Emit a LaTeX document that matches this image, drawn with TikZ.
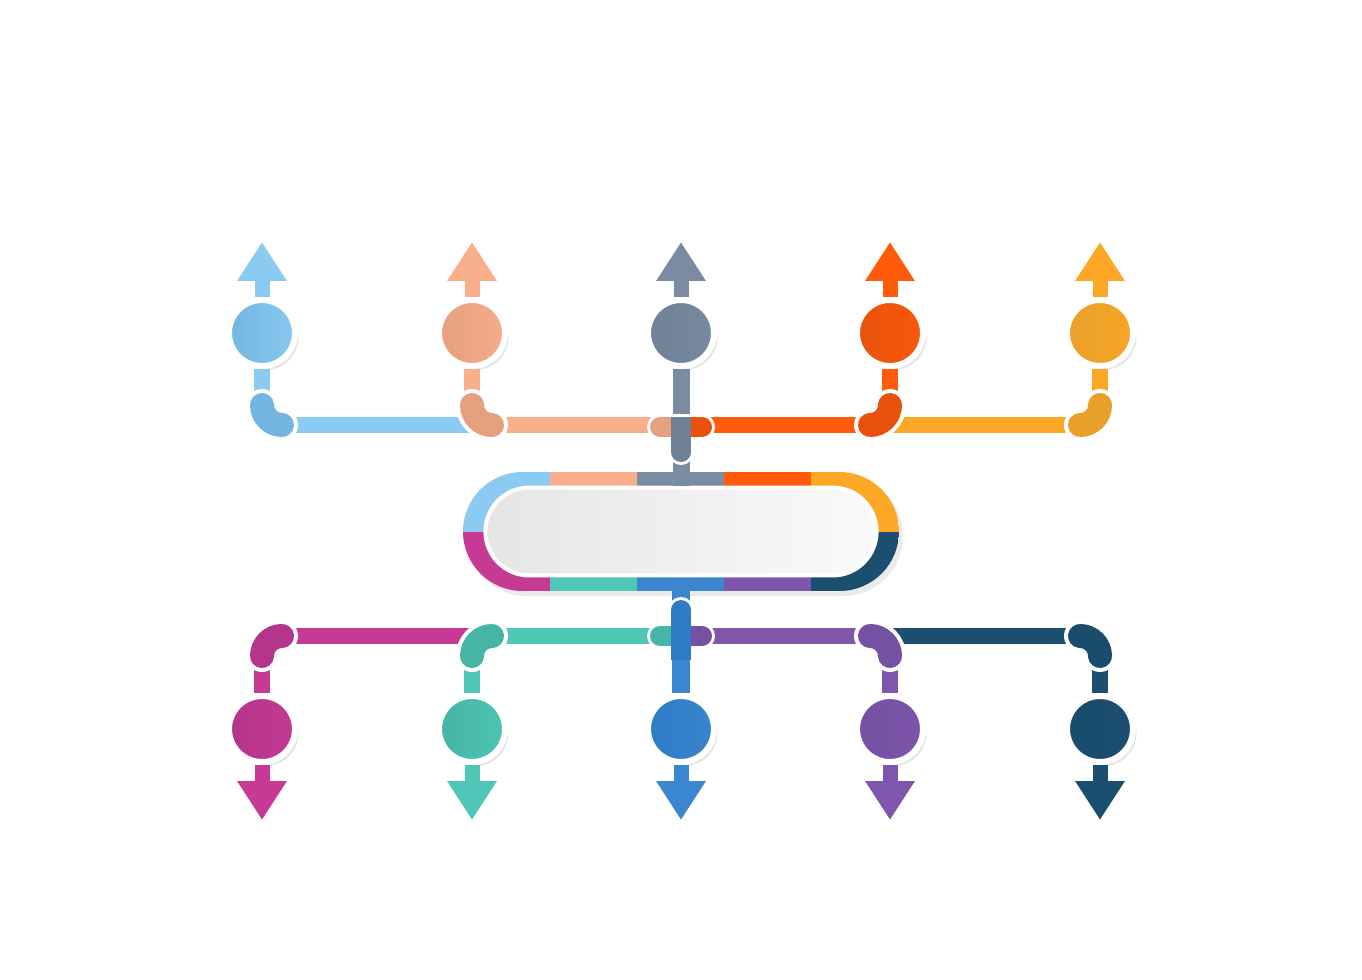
\documentclass[tikz,border=0pt]{standalone}
\usetikzlibrary{arrows.meta}
\usetikzlibrary{shadows}
\usetikzlibrary{shapes.misc}

\definecolor{cBlue}{HTML}{8BCBF1}
\definecolor{cSalmon}{HTML}{F9AF8B}
\definecolor{cGray}{HTML}{7A8CA1}
\definecolor{cOrange}{HTML}{FF5B0B}
\definecolor{cYellow}{HTML}{FCA826}
\definecolor{cMagenta}{HTML}{C63A96}
\definecolor{cTeal}{HTML}{50C7B6}
\definecolor{cBlueb}{HTML}{3A87CF}
\definecolor{cPurple}{HTML}{7E56AB}
\definecolor{cNavy}{HTML}{1B4F70}

\definecolor{kBlue}{HTML}{74B5E0}
\definecolor{kSalmon}{HTML}{E5A07F}
\definecolor{kGray}{HTML}{6E8197}
\definecolor{kOrange}{HTML}{E8520C}
\definecolor{kYellow}{HTML}{E9A02A}
\definecolor{kMagenta}{HTML}{B5358A}
\definecolor{kTeal}{HTML}{45B5A5}
\definecolor{kBlueb}{HTML}{2F7CC6}
\definecolor{kPurple}{HTML}{7451A3}
\definecolor{kNavy}{HTML}{1A4C6C}

\begin{document}
\begin{tikzpicture}[x=0.02cm, y=-0.02cm,
  dot/.style={circle, minimum size=1.32cm, draw=white, line width=0.12cm,
    drop shadow={shadow xshift=0.07cm, shadow yshift=-0.08cm, opacity=0.2}},
  hub/.style={rounded rectangle, minimum width=8.06cm, minimum height=1.76cm,
    draw=white, line width=0.08cm, left color=black!10, right color=black!2},
  stem/.style={line width=0.32cm},
  shaft/.style={line width=0.30cm, -{Triangle[length=0.78cm, width=0.94cm]}},
  elbow/.style={line width=0.48cm, line cap=round,
    preaction={draw=white, line width=0.64cm, line cap=round}},
  capw/.style={white, line width=0.52cm, line cap=round},
  capc/.style={line width=0.40cm, line cap=round}]

\fill[white] (0,0) rectangle (1362,980);
\useasboundingbox (0,0) rectangle (1362,980);

% centre ring
\fill[black, opacity=0.08, rounded corners=1.19cm] (467,477) rectangle (903,596);
\begin{scope}
\clip[rounded corners=1.19cm] (463,472) rectangle (899,591);
\fill[cBlue] (463,472) rectangle (550,531.5);
\fill[cSalmon] (550,472) rectangle (637,531.5);
\fill[cGray] (637,472) rectangle (724,531.5);
\fill[cOrange] (724,472) rectangle (811,531.5);
\fill[cYellow] (811,472) rectangle (899,531.5);
\fill[cMagenta] (463,531.5) rectangle (550,591);
\fill[cTeal] (550,531.5) rectangle (637,591);
\fill[cBlueb] (637,531.5) rectangle (724,591);
\fill[cPurple] (724,531.5) rectangle (811,591);
\fill[cNavy] (811,531.5) rectangle (899,591);
\end{scope}
\node[hub] (hub) at (681,531.5) {};

% circles
\node[dot, left color=kBlue, right color=cBlue!90!kBlue] (t1) at (262,333) {};
\node[dot, left color=kSalmon, right color=cSalmon!80!kSalmon] (t2) at (472,333) {};
\node[dot, left color=kGray, right color=cGray!80!kGray] (t3) at (681,333) {};
\node[dot, left color=kOrange, right color=cOrange!70!kOrange] (t4) at (890,333) {};
\node[dot, left color=kYellow, right color=cYellow!70!kYellow] (t5) at (1100,333) {};
\node[dot, left color=kMagenta, right color=cMagenta!80!kMagenta] (b1) at (262,729) {};
\node[dot, left color=kTeal, right color=cTeal!80!kTeal] (b2) at (472,729) {};
\node[dot, left color=kBlueb, right color=cBlueb!80!kBlueb] (b3) at (681,729) {};
\node[dot, left color=kPurple, right color=cPurple!70!kPurple] (b4) at (890,729) {};
\node[dot, left color=kNavy, right color=cNavy!70!kNavy] (b5) at (1100,729) {};

% tips, corners
\coordinate (ta1) at (262,242);
\coordinate (ta2) at (472,242);
\coordinate (ta3) at (681,242);
\coordinate (ta4) at (890,242);
\coordinate (ta5) at (1100,242);
\coordinate (ba1) at (262,820);
\coordinate (ba2) at (472,820);
\coordinate (ba3) at (681,820);
\coordinate (ba4) at (890,820);
\coordinate (ba5) at (1100,820);
\coordinate (ts1) at (262,405);
\coordinate (ts2) at (472,405);
\coordinate (ts4) at (890,405);
\coordinate (ts5) at (1100,405);
\coordinate (bs1) at (262,656);
\coordinate (bs2) at (472,656);
\coordinate (bs4) at (890,656);
\coordinate (bs5) at (1100,656);
\coordinate (tk1) at (282,425);
\coordinate (tk2) at (492,425);
\coordinate (tj) at (681,425);
\coordinate (tk4) at (870,425);
\coordinate (tk5) at (1080,425);
\coordinate (bk1) at (282,636);
\coordinate (bk2) at (492,636);
\coordinate (bj) at (681,636);
\coordinate (bk4) at (870,636);
\coordinate (bk5) at (1080,636);

% rails
\draw[stem, cBlue] (tk1) -- (tk2);
\draw[stem, cSalmon] (tk2) -- (tj);
\draw[stem, cOrange] (tj) -- (tk4);
\draw[stem, cYellow] (tk4) -- (tk5);
\draw[stem, cMagenta] (bk1) -- (bk2);
\draw[stem, cTeal] (bk2) -- (bj);
\draw[stem, cPurple] (bj) -- (bk4);
\draw[stem, cNavy] (bk4) -- (bk5);

% arrows
\draw[shaft, cBlue] (t1) -- (ta1);
\draw[shaft, cSalmon] (t2) -- (ta2);
\draw[shaft, cGray] (t3) -- (ta3);
\draw[shaft, cOrange] (t4) -- (ta4);
\draw[shaft, cYellow] (t5) -- (ta5);
\draw[shaft, cMagenta] (b1) -- (ba1);
\draw[shaft, cTeal] (b2) -- (ba2);
\draw[shaft, cBlueb] (b3) -- (ba3);
\draw[shaft, cPurple] (b4) -- (ba4);
\draw[shaft, cNavy] (b5) -- (ba5);

% stems
\draw[stem, cBlue] (t1) -- (ts1);
\draw[stem, cSalmon] (t2) -- (ts2);
\draw[stem, cGray, line width=0.34cm] (t3) -- (hub);
\draw[stem, cOrange] (t4) -- (ts4);
\draw[stem, cYellow] (t5) -- (ts5);
\draw[stem, cMagenta] (bs1) -- (b1);
\draw[stem, cTeal] (bs2) -- (b2);
\draw[stem, cBlueb, line width=0.36cm] (hub) -- (b3);
\draw[stem, cPurple] (bs4) -- (b4);
\draw[stem, cNavy] (bs5) -- (b5);

% elbows
\draw[elbow, kBlue] (ts1) arc[start angle=180, end angle=90, radius=20];
\draw[elbow, kSalmon] (ts2) arc[start angle=180, end angle=90, radius=20];
\draw[elbow, kOrange] (ts4) arc[start angle=0, end angle=90, radius=20];
\draw[elbow, kYellow] (ts5) arc[start angle=0, end angle=90, radius=20];
\draw[elbow, kMagenta] (bs1) arc[start angle=180, end angle=270, radius=20];
\draw[elbow, kTeal] (bs2) arc[start angle=180, end angle=270, radius=20];
\draw[elbow, kPurple] (bs4) arc[start angle=0, end angle=-90, radius=20];
\draw[elbow, kNavy] (bs5) arc[start angle=0, end angle=-90, radius=20];

% joints
\draw[capw] (660,427) -- (702,427);
\draw[capw] (681,427) -- (681,452);
\draw[capc, kSalmon] (660,427) -- (681,427);
\draw[capc, kOrange] (702,427) -- (681,427);
\draw[capc, kGray, line cap=butt] (681,417) -- (681,452);
\fill[kGray] (681,452) circle[radius=10];

\draw[capw] (660,636) -- (702,636);
\draw[capw] (681,610) -- (681,636);
\draw[capc, kTeal] (660,636) -- (681,636);
\draw[capc, kPurple] (702,636) -- (681,636);
\draw[capc, kBlueb, line cap=butt] (681,610) -- (681,660);
\fill[kBlueb] (681,610) circle[radius=10];

\end{tikzpicture}
\end{document}
